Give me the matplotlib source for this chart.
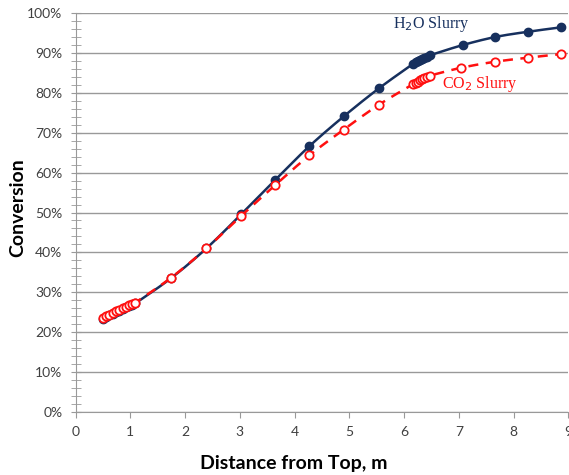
import matplotlib
matplotlib.use('Agg')
import matplotlib.pyplot as plt
import numpy as np
from matplotlib.ticker import MultipleLocator, FuncFormatter

# H2O slurry (distance from top in m, conversion in %)
h2o_x = [0.50, 0.56, 0.62, 0.68, 0.74, 0.80, 0.86, 0.92, 0.98, 1.04, 1.09,
         1.75, 2.39, 3.03, 3.65, 4.27, 4.90, 5.54,
         6.17, 6.21, 6.25, 6.29, 6.33, 6.37, 6.42, 6.47,
         7.08, 7.67, 8.26, 8.86]
h2o_y = [23.4, 23.8, 24.2, 24.6, 25.0, 25.4, 25.8, 26.2, 26.5, 26.9, 27.2,
         33.6, 41.0, 49.6, 58.2, 66.6, 74.1, 81.1,
         87.3, 87.6, 87.9, 88.2, 88.5, 88.8, 89.1, 89.4,
         92.0, 94.0, 95.3, 96.4]

# CO2 slurry
co2_x = [0.50, 0.56, 0.62, 0.68, 0.74, 0.80, 0.86, 0.92, 0.98, 1.04, 1.09,
         1.75, 2.39, 3.03, 3.65, 4.27, 4.90, 5.54,
         6.17, 6.21, 6.25, 6.29, 6.33, 6.37, 6.42, 6.47,
         7.05, 7.67, 8.26, 8.86]
co2_y = [23.6, 24.0, 24.4, 24.8, 25.2, 25.6, 26.0, 26.4, 26.7, 27.1, 27.4,
         33.7, 41.0, 49.2, 56.9, 64.3, 70.8, 77.0,
         82.2, 82.5, 82.8, 83.1, 83.4, 83.7, 84.0, 84.3,
         86.3, 87.8, 88.8, 89.7]

navy = '#17305E'
red = '#FF1010'
grey = '#404040'


def smooth(x, y, n=20):
    # catmull-rom curve through the points, like excel's smoothed line
    x = np.asarray(x, float)
    y = np.asarray(y, float)
    px = np.concatenate([[2 * x[0] - x[1]], x, [2 * x[-1] - x[-2]]])
    py = np.concatenate([[2 * y[0] - y[1]], y, [2 * y[-1] - y[-2]]])
    t = np.linspace(0, 1, n)
    xs, ys = [], []
    for i in range(1, len(px) - 2):
        for p, out in ((px, xs), (py, ys)):
            p0, p1, p2, p3 = p[i - 1], p[i], p[i + 1], p[i + 2]
            out.extend(0.5 * (2 * p1 + (-p0 + p2) * t
                              + (2 * p0 - 5 * p1 + 4 * p2 - p3) * t ** 2
                              + (-p0 + 3 * p1 - 3 * p2 + p3) * t ** 3))
    return xs, ys


fig = plt.figure(figsize=(5.69, 4.75), dpi=100)
ax = fig.add_axes([0.1327, 0.1326, 0.866, 0.84])

sx, sy = smooth(h2o_x, h2o_y)
ax.plot(sx, sy, color=navy, lw=1.8, zorder=3)
ax.plot(h2o_x, h2o_y, 'o', color=navy, ms=6, zorder=4)

sx, sy = smooth(co2_x, co2_y)
ax.plot(sx, sy, color=red, lw=1.8, ls=(0, (4, 3)), zorder=5)
ax.plot(co2_x, co2_y, 'o', mfc='white', mec=red, mew=1.3, ms=6, zorder=6)

ax.text(5.8, 97.3, 'H$_2$O Slurry', color=navy, fontsize=11.5,
        family='Liberation Serif', va='center')
ax.text(6.7, 82.3, 'CO$_2$ Slurry', color=red, fontsize=11.5,
        family='Liberation Serif', va='center')

ax.set_xlim(0, 9)
ax.set_ylim(0, 100)
ax.xaxis.set_major_locator(MultipleLocator(1))
ax.yaxis.set_major_locator(MultipleLocator(10))
ax.yaxis.set_minor_locator(MultipleLocator(2))
ax.yaxis.set_major_formatter(FuncFormatter(lambda v, p: '%d%%' % v))

ax.grid(axis='y', which='major', color='#999999', lw=1)
ax.set_axisbelow(True)
for s in ['top', 'right']:
    ax.spines[s].set_visible(False)
for s in ['left', 'bottom']:
    ax.spines[s].set_color('#999999')
ax.tick_params(axis='y', which='both', direction='inout', length=7,
               color='#999999', labelcolor=grey, labelsize=10, pad=6)
ax.tick_params(axis='x', direction='out', length=4, color='#999999',
               labelcolor=grey, labelsize=10, pad=6)
for lab in ax.get_xticklabels() + ax.get_yticklabels():
    lab.set_family('Lato')

fig.text(0.517, 0.025, 'Distance from Top, m', fontsize=14, weight='bold',
         family='Lato', ha='center', va='center')
fig.text(0.032, 0.562, 'Conversion', fontsize=14, weight='bold',
         family='Lato', ha='center', va='center', rotation=90)

fig.savefig('out.png', dpi=100)
